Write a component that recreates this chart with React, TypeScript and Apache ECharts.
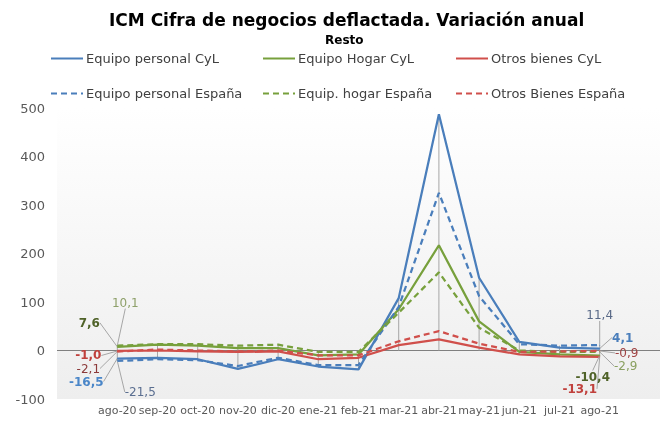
import React, { useEffect, useRef } from 'react';
import * as echarts from 'echarts';

const categories = ['', 'ago-20', 'sep-20', 'oct-20', 'nov-20', 'dic-20', 'ene-21', 'feb-21', 'mar-21', 'abr-21', 'may-21', 'jun-21', 'jul-21', 'ago-21', ''];

const personalCyL = [null, -16.5, -15, -18, -38, -18, -33, -39, 108, 487, 150, 18, 6, 4.1, null];
const personalEsp = [null, -21.5, -18, -20, -32, -15, -30, -30, 90, 325, 112, 13, 10, 11.4, null];
const hogarCyL = [null, 7.6, 12, 10, 5, 5, -10, -8, 85, 217, 60, -3, -8, -10.4, null];
const hogarEsp = [null, 10.1, 13, 13, 10, 12, -3, -3, 78, 161, 47, 0, -3, -2.9, null];
const otrosCyL = [null, -1.0, 0, -2, -3, -2, -18, -15, 11, 23, 6, -8, -12, -13.1, null];
const otrosEsp = [null, -2.1, 2, 0, -2, 0, -10, -10, 19, 40, 14, -3, -2, -0.9, null];

const names = [
  'Equipo personal CyL',
  'Equipo Hogar CyL',
  'Otros bienes CyL',
  'Equipo personal España',
  'Equip. hogar España',
  'Otros Bienes España',
];

const yTicks = { min: -100, max: 500, interval: 100 };

const BLUE = '#4a7ebb';
const GREEN = '#77a03c';
const RED = '#d04f4b';

export default function App() {
  const ref = useRef<HTMLDivElement>(null);
  useEffect(() => {
    const chart = echarts.init(ref.current!, null, { renderer: 'svg' });
    const font = 'DejaVu Sans';
    const fmt = (v: number) => v.toFixed(1).replace('.', ',');

    // label settings per series: [first point (ago-20) label, last point (ago-21) label]
    // each: [dx, dy, color, bold]
    type L = [number, number, string, boolean];
    const labelCfg: Record<number, { first: L; last: L }> = {
      0: { first: [-31, 23, '#4a86c8', true], last: [23, -11, '#4a7ebb', true] },
      1: { first: [-28, -24, '#4f6228', true], last: [-7, 21, '#4f6228', true] },
      2: { first: [-29, 4.5, '#c0403c', true], last: [-20, 32, '#c0403c', true] },
      3: { first: [23, 31, '#5a6e90', false], last: [0, -30, '#5a6a88', false] },
      4: { first: [8, -43, '#8ea06a', false], last: [26, 14, '#8aa060', false] },
      5: { first: [-29, 17, '#8c3a3a', false], last: [27, 2, '#a04444', false] },
    };

    const seriesData = [personalCyL, hogarCyL, otrosCyL, personalEsp, hogarEsp, otrosEsp];
    const colors = [BLUE, GREEN, RED, BLUE, GREEN, RED];

    const lineSeries = seriesData.map((arr, si) => {
      const cfg = labelCfg[si];
      const data = arr.map((v, i) => {
        if (v === null) return null;
        if (i === 1 || i === 13) {
          const c = i === 1 ? cfg.first : cfg.last;
          return {
            value: v,
            symbol: 'circle',
            symbolSize: 1,
            label: {
              show: true,
              color: c[2],
              fontWeight: c[3] ? 'bold' : 'normal',
            },
          };
        }
        return v;
      });
      return {
        name: names[si],
        type: 'line',
        data,
        symbol: 'none',
        showSymbol: true,
        z: 3,
        lineStyle: {
          color: colors[si],
          width: 2.25,
          type: si >= 3 ? [6, 4] : 'solid',
        },
        itemStyle: { color: colors[si] },
        label: {
          show: false,
          position: 'inside',
          fontFamily: font,
          fontSize: 12,
          lineHeight: 11,
          formatter: (p: any) => fmt(p.value),
        },
        labelLine: { show: true, lineStyle: { color: '#a6a6a6', width: 1 } },
        labelLayout: (p: any) => {
          const c = p.dataIndex === 1 ? cfg.first : p.dataIndex === 13 ? cfg.last : null;
          if (!c) return {};
          return { dx: c[0], dy: c[1] };
        },
        markLine:
          si === 0
            ? {
                silent: true,
                symbol: 'none',
                label: { show: false },
                lineStyle: { color: '#808080', type: 'solid', width: 1 },
                data: [{ yAxis: 0 }],
                z: 1,
              }
            : undefined,
      };
    });

    const dropData: any[] = [];
    categories.forEach((_, i) => {
      const vals = seriesData.map((a) => a[i]).filter((v) => v !== null) as number[];
      if (!vals.length) return;
      dropData.push([i, Math.max(0, ...vals), Math.min(0, ...vals)]);
    });

    const legendPos = [
      [50, 52],
      [262, 52],
      [455, 52],
      [50, 87],
      [262, 87],
      [455, 87],
    ];

    chart.setOption({
      animation: false,
      textStyle: { fontFamily: font },
      title: [
        {
          text: 'ICM Cifra de negocios deflactada. Variación anual',
          left: 104,
          top: 6,
          textStyle: { fontFamily: font, fontSize: 17, fontWeight: 'bold', color: '#000' },
        },
        {
          text: 'Resto',
          left: 320,
          top: 29,
          textStyle: { fontFamily: font, fontSize: 12, fontWeight: 'bold', color: '#000' },
        },
      ],
      legend: names.map((n, k) => ({
        data: [n],
        left: legendPos[k][0],
        top: legendPos[k][1],
        itemWidth: 32,
        itemHeight: 14,
        padding: 0,
        itemStyle: { opacity: 0 },
        textStyle: { fontFamily: font, fontSize: 13, color: '#404040', padding: [0, 0, 0, -2] },
      })),
      grid: {
        left: 57,
        right: 4,
        top: 108,
        bottom: 22,
        show: true,
        borderWidth: 0,
        backgroundColor: new echarts.graphic.LinearGradient(0, 0, 0, 1, [
          { offset: 0, color: '#ffffff' },
          { offset: 1, color: '#eeeeee' },
        ]),
      },
      xAxis: {
        type: 'category',
        data: categories,
        boundaryGap: true,
        axisLine: { show: false },
        axisTick: { show: false },
        splitLine: { show: false },
        axisLabel: { interval: 0, color: '#595959', fontSize: 11, margin: 6, fontFamily: font },
      },
      yAxis: {
        type: 'value',
        min: yTicks.min,
        max: yTicks.max,
        interval: yTicks.interval,
        axisLine: { show: false },
        axisTick: { show: false },
        splitLine: { show: false },
        axisLabel: { color: '#595959', fontSize: 13, margin: 12, fontFamily: font },
      },
      series: [
        ...lineSeries,
        {
          type: 'custom',
          name: 'drop',
          data: dropData,
          encode: { x: 0, y: [1, 2] },
          z: 2,
          silent: true,
          renderItem: (params: any, api: any) => {
            const p1 = api.coord([api.value(0), api.value(1)]);
            const p2 = api.coord([api.value(0), api.value(2)]);
            return {
              type: 'line',
              shape: { x1: p1[0], y1: p1[1], x2: p2[0], y2: p2[1] },
              style: { stroke: '#a6a6a6', lineWidth: 1 },
            };
          },
        },
      ],
    });
    return () => chart.dispose();
  }, []);
  return <div ref={ref} style={{ position: 'fixed', left: 0, top: 0, width: 664, height: 421 }} />;
}
